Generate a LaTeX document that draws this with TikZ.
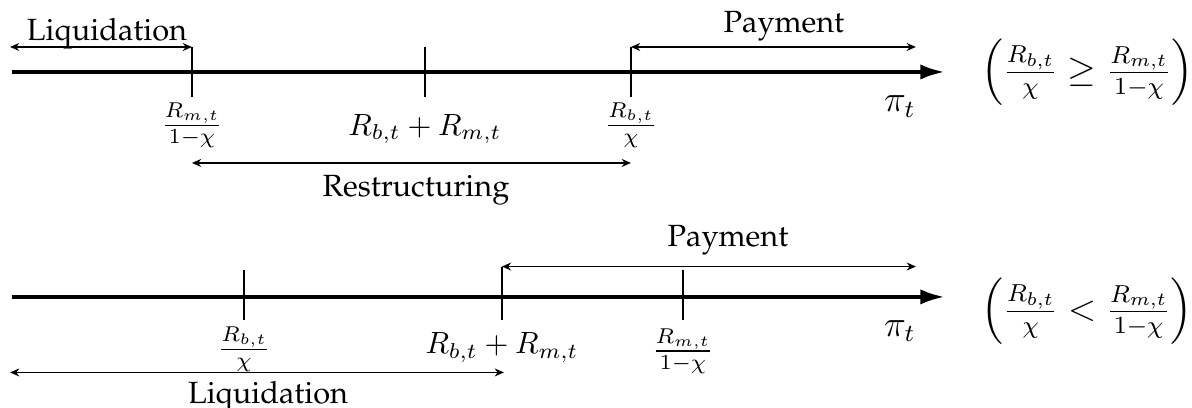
\documentclass[tikz,border=0pt]{standalone}
\usepackage[T1]{fontenc}
\renewcommand{\rmdefault}{ppl}
\usepackage{amsmath}
\usepackage{amssymb}
\usepackage{tikz}
\usetikzlibrary{
  arrows.meta,
  positioning,
  calc
}
\tikzset{
  axisline/.style={-{Latex[length=8pt,width=5pt]},line width=1.3pt},
  tickmark/.style={line width=0.5pt},
  spanarrow/.style={{Stealth[length=3pt,width=2.6pt]}-{Stealth[length=3pt,width=2.6pt]},line width=0.45pt},
  ticklbl/.style={inner sep=0pt},
  rangelbl/.style={inner sep=0pt,anchor=base},
  condlbl/.style={inner sep=0pt,font=\large}
}

\begin{document}
\begin{tikzpicture}
  \useasboundingbox (0,0) rectangle (13.65,-4.67);

  % first case
  \coordinate (start1) at (0.137,-0.824);
  \coordinate (end1) at (10.82,-0.824);
  \draw[axisline] (start1) -- (end1);
  \foreach \n/\x in {rm1/2.198, sum1/4.866, rb1/7.225}{
    \coordinate (\n) at (\x,-0.538);
    \draw[tickmark] (\n) -- ++(0,-0.572);
  }
  \node[ticklbl] (rm1lbl) at (2.198,-1.437) {$\frac{R_{m,t}}{1-\chi}$};
  \node[ticklbl,anchor=base] (sum1lbl) at (4.866,-1.546) {$R_{b,t}+R_{m,t}$};
  \node[ticklbl] (rb1lbl) at (7.225,-1.437) {$\frac{R_{b,t}}{\chi}$};

  \coordinate (liq1) at (0.115,-0.538);
  \coordinate (pay1) at (10.488,-0.538);
  \coordinate (res1a) at (2.198,-1.866);
  \coordinate (res1b) at (7.225,-1.866);
  \draw[spanarrow] (liq1) -- (rm1);
  \draw[spanarrow] (rb1) -- (pay1);
  \draw[spanarrow] (res1a) -- (res1b);
  \node[rangelbl] (liq1lbl) at (1.225,-0.46) {Liquidation};
  \node[rangelbl] (pay1lbl) at (8.977,-0.374) {Payment};
  \node[rangelbl] (res1lbl) at (4.763,-2.25) {Restructuring};

  \node[condlbl,anchor=base] (pi1) at (10.305,-1.28) {$\pi_t$};
  \node[condlbl] (cond1) at (12.45,-0.83) {$\left(\frac{R_{b,t}}{\chi}\geq\frac{R_{m,t}}{1-\chi}\right)$};

  % second case
  \coordinate (start2) at (0.137,-3.40);
  \coordinate (end2) at (10.82,-3.40);
  \draw[axisline] (start2) -- (end2);
  \foreach \n/\x/\t in {rb2/2.794/-3.09, sum2/5.748/-3.052, rm2/7.82/-3.09}{
    \coordinate (\n) at (\x,\t);
    \draw[tickmark] (\n) -- (\x,-3.66);
  }
  \node[ticklbl] (rb2lbl) at (2.794,-3.996) {$\frac{R_{b,t}}{\chi}$};
  \node[ticklbl,anchor=base] (sum2lbl) at (5.748,-4.053) {$R_{b,t}+R_{m,t}$};
  \node[ticklbl] (rm2lbl) at (7.82,-4.019) {$\frac{R_{m,t}}{1-\chi}$};

  \coordinate (pay2) at (10.488,-3.052);
  \coordinate (liq2a) at (0.115,-4.265);
  \coordinate (liq2b) at (5.77,-4.265);
  \draw[spanarrow] (sum2) -- (pay2);
  \draw[spanarrow] (liq2a) -- (liq2b);
  \node[rangelbl] (pay2lbl) at (8.336,-2.817) {Payment};
  \node[rangelbl] (liq2lbl) at (3.069,-4.62) {Liquidation};

  \node[condlbl,anchor=base] (pi2) at (10.305,-3.85) {$\pi_t$};
  \node[condlbl] (cond2) at (12.45,-3.567) {$\left(\frac{R_{b,t}}{\chi}<\frac{R_{m,t}}{1-\chi}\right)$};
\end{tikzpicture}
\end{document}
